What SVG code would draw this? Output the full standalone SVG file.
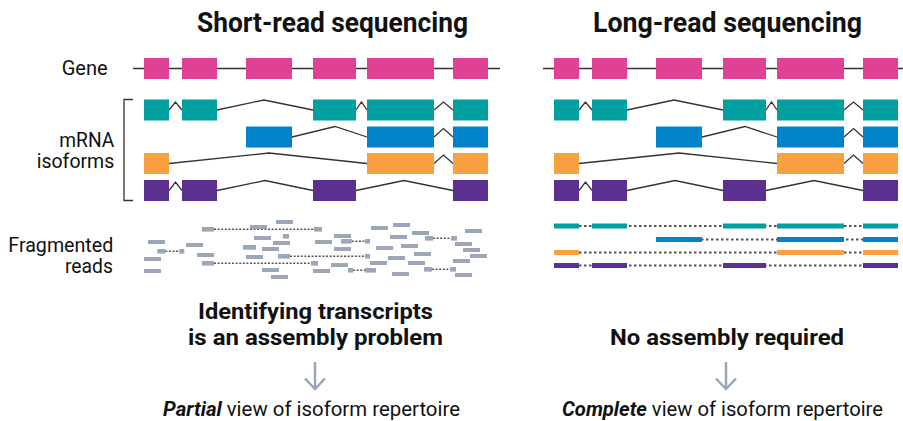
<svg xmlns="http://www.w3.org/2000/svg" width="903" height="421" viewBox="0 0 903 421">
<style>
  .title{font-family:Roboto,"Liberation Sans",sans-serif;font-weight:700;font-size:27px;fill:#111}
  .lab{font-family:Roboto,"Liberation Sans",sans-serif;font-size:21px;fill:#111}
  .bold{font-family:Roboto,"Liberation Sans",sans-serif;font-weight:700;font-size:22px;fill:#111}
  .foot{font-family:Roboto,"Liberation Sans",sans-serif;font-size:21px;fill:#111}
  .bi{font-weight:700;font-style:italic}
  .gene{fill:#e04195}
  .teal{fill:#009fa0}
  .blue{fill:#0083ca}
  .orange{fill:#f9a040}
  .purple{fill:#5c3090}
  .read{fill:#9ba6b9}
  .intron{fill:none;stroke:#333;stroke-width:1.3}
  .backbone{fill:none;stroke:#333;stroke-width:1.5}
  .dots{fill:none;stroke:#555;stroke-width:1.4;stroke-dasharray:2 1.6}
  .dash{fill:none;stroke:#555;stroke-width:2;stroke-dasharray:2.5 2.5}
  .arrow{fill:none;stroke:#9ba6b9;stroke-width:2.5}
</style>

<g id="titles">
  <text class="title" x="197" y="32" textLength="271" lengthAdjust="spacingAndGlyphs">Short-read sequencing</text>
  <text class="title" x="593" y="32" textLength="269" lengthAdjust="spacingAndGlyphs">Long-read sequencing</text>
</g>

<g id="labels">
  <text class="lab" x="61.7" y="75" textLength="46" lengthAdjust="spacingAndGlyphs">Gene</text>
  <text class="lab" x="59.3" y="146.7" textLength="55" lengthAdjust="spacingAndGlyphs">mRNA</text>
  <text class="lab" x="36.7" y="168.3" textLength="77.6" lengthAdjust="spacingAndGlyphs">isoforms</text>
  <text class="lab" x="8.3" y="251.7" textLength="105" lengthAdjust="spacingAndGlyphs">Fragmented</text>
  <text class="lab" x="65" y="273.3" textLength="48" lengthAdjust="spacingAndGlyphs">reads</text>
  <path class="intron" d="M133,99.5 H124 V200.5 H133"/>
</g>

<!-- LEFT PANEL -->
<g id="gene-left">
  <line class="backbone" x1="133" y1="68.5" x2="500" y2="68.5"/>
  <rect class="gene" x="144" y="58" width="25" height="21"/>
  <rect class="gene" x="182" y="58" width="35" height="21"/>
  <rect class="gene" x="246" y="58" width="46" height="21"/>
  <rect class="gene" x="313" y="58" width="43" height="21"/>
  <rect class="gene" x="367" y="58" width="67" height="21"/>
  <rect class="gene" x="453" y="58" width="35" height="21"/>
</g>

<g id="isoforms-left">
  <path class="intron" d="M169,110 L175.5,102 L182,110 M217,110 L264,100 L313,110 M356,110 L361.5,102 L367,110 M434,110 L443.5,102 L453,110"/>
  <rect class="teal" x="144" y="99.5" width="25" height="21"/>
  <rect class="teal" x="182" y="99.5" width="35" height="21"/>
  <rect class="teal" x="313" y="99.5" width="43" height="21"/>
  <rect class="teal" x="367" y="99.5" width="67" height="21"/>
  <rect class="teal" x="453" y="99.5" width="35" height="21"/>

  <path class="intron" d="M292,137 L335,126.5 L367,137 M434,137 L443.5,128.5 L453,137"/>
  <rect class="blue" x="246" y="126.5" width="46" height="21"/>
  <rect class="blue" x="367" y="126.5" width="67" height="21"/>
  <rect class="blue" x="453" y="126.5" width="35" height="21"/>

  <path class="intron" d="M169,163.5 L269,153 L367,163.5 M434,163.5 L443.5,155 L453,163.5"/>
  <rect class="orange" x="144" y="153" width="25" height="21"/>
  <rect class="orange" x="367" y="153" width="67" height="21"/>
  <rect class="orange" x="453" y="153" width="35" height="21"/>

  <path class="intron" d="M169,190.5 L175.5,182 L182,190.5 M217,190.5 L265,180.5 L313,190.5 M356,190.5 L404,180.5 L453,190.5"/>
  <rect class="purple" x="144" y="180" width="25" height="21"/>
  <rect class="purple" x="182" y="180" width="35" height="21"/>
  <rect class="purple" x="313" y="180" width="43" height="21"/>
  <rect class="purple" x="453" y="180" width="35" height="21"/>
</g>

<g id="reads-left">
  <path class="dots" d="M214,229.3 H314 M165.3,251.3 H179.3 M214,263.3 H311 M290,256.3 H365 M351.7,241.3 H365 M353,270.3 H365 M433,238.3 H451 M432,269.3 H450"/>
  <rect class="read" x="202" y="227" width="12" height="4.6"/>
  <rect class="read" x="314" y="227" width="8" height="4.6"/>
  <rect class="read" x="157.3" y="249" width="8" height="4.6"/>
  <rect class="read" x="179.3" y="249" width="5" height="4.6"/>
  <rect class="read" x="202" y="261" width="12" height="4.6"/>
  <rect class="read" x="311" y="261" width="7" height="4.6"/>
  <rect class="read" x="278" y="254" width="12" height="4.6"/>
  <rect class="read" x="365" y="254" width="5" height="4.6"/>
  <rect class="read" x="341" y="239" width="10.7" height="4.6"/>
  <rect class="read" x="365" y="239" width="5" height="4.6"/>
  <rect class="read" x="348" y="268" width="5" height="4.6"/>
  <rect class="read" x="365" y="268" width="11" height="4.6"/>
  <rect class="read" x="425" y="236" width="8" height="4.6"/>
  <rect class="read" x="451" y="236" width="6" height="4.6"/>
  <rect class="read" x="424" y="267" width="8" height="4.6"/>
  <rect class="read" x="450" y="267" width="6" height="4.6"/>

  <rect class="read" x="276" y="220" width="17" height="4"/>
  <rect class="read" x="250" y="225" width="17" height="4"/>
  <rect class="read" x="371" y="226" width="17" height="4"/>
  <rect class="read" x="393" y="223" width="17" height="4"/>
  <rect class="read" x="148" y="240" width="17" height="4"/>
  <rect class="read" x="186" y="243" width="17" height="4"/>
  <rect class="read" x="144" y="257" width="17" height="4"/>
  <rect class="read" x="144" y="269" width="17" height="4"/>
  <rect class="read" x="197" y="253" width="17" height="4"/>
  <rect class="read" x="254" y="236" width="17" height="4"/>
  <rect class="read" x="283" y="234" width="6" height="4.6"/>
  <rect class="read" x="273" y="241" width="17" height="4"/>
  <rect class="read" x="243" y="245" width="13" height="4.6"/>
  <rect class="read" x="262" y="247" width="17" height="4"/>
  <rect class="read" x="246" y="255" width="17" height="4"/>
  <rect class="read" x="262" y="268" width="17" height="4"/>
  <rect class="read" x="271" y="275" width="17" height="4"/>
  <rect class="read" x="315" y="240" width="17" height="4"/>
  <rect class="read" x="334" y="234" width="17" height="4"/>
  <rect class="read" x="334" y="247" width="17" height="4"/>
  <rect class="read" x="313" y="269" width="17" height="4"/>
  <rect class="read" x="331" y="263" width="17" height="4"/>
  <rect class="read" x="376" y="246" width="17" height="4"/>
  <rect class="read" x="390" y="235" width="17" height="4"/>
  <rect class="read" x="412" y="231" width="17" height="4"/>
  <rect class="read" x="401" y="244" width="17" height="4"/>
  <rect class="read" x="388" y="256" width="17" height="4"/>
  <rect class="read" x="414" y="252" width="17" height="4"/>
  <rect class="read" x="370" y="261" width="17" height="4"/>
  <rect class="read" x="408" y="261" width="17" height="4"/>
  <rect class="read" x="392" y="272" width="17" height="4"/>
  <rect class="read" x="465" y="229" width="17" height="4"/>
  <rect class="read" x="455" y="242" width="17" height="4"/>
  <rect class="read" x="463" y="248" width="17" height="4"/>
  <rect class="read" x="470" y="254" width="17" height="4"/>
  <rect class="read" x="453" y="259" width="17" height="4"/>
  <rect class="read" x="455" y="273" width="17" height="4"/>
</g>

<!-- RIGHT PANEL -->
<g id="gene-right">
  <line class="backbone" x1="543" y1="68.5" x2="903" y2="68.5"/>
  <rect class="gene" x="554" y="58" width="25" height="21"/>
  <rect class="gene" x="592" y="58" width="35" height="21"/>
  <rect class="gene" x="656" y="58" width="46" height="21"/>
  <rect class="gene" x="723" y="58" width="43" height="21"/>
  <rect class="gene" x="777" y="58" width="67" height="21"/>
  <rect class="gene" x="863" y="58" width="35" height="21"/>
</g>

<g id="isoforms-right">
  <path class="intron" d="M579,110 L585.5,102 L592,110 M627,110 L674,100 L723,110 M766,110 L771.5,102 L777,110 M844,110 L853.5,102 L863,110"/>
  <rect class="teal" x="554" y="99.5" width="25" height="21"/>
  <rect class="teal" x="592" y="99.5" width="35" height="21"/>
  <rect class="teal" x="723" y="99.5" width="43" height="21"/>
  <rect class="teal" x="777" y="99.5" width="67" height="21"/>
  <rect class="teal" x="863" y="99.5" width="35" height="21"/>

  <path class="intron" d="M702,137 L745,126.5 L777,137 M844,137 L853.5,128.5 L863,137"/>
  <rect class="blue" x="656" y="126.5" width="46" height="21"/>
  <rect class="blue" x="777" y="126.5" width="67" height="21"/>
  <rect class="blue" x="863" y="126.5" width="35" height="21"/>

  <path class="intron" d="M579,163.5 L679,153 L777,163.5 M844,163.5 L853.5,155 L863,163.5"/>
  <rect class="orange" x="554" y="153" width="25" height="21"/>
  <rect class="orange" x="777" y="153" width="67" height="21"/>
  <rect class="orange" x="863" y="153" width="35" height="21"/>

  <path class="intron" d="M579,190.5 L585.5,182 L592,190.5 M627,190.5 L675,180.5 L723,190.5 M766,190.5 L814,180.5 L863,190.5"/>
  <rect class="purple" x="554" y="180" width="25" height="21"/>
  <rect class="purple" x="592" y="180" width="35" height="21"/>
  <rect class="purple" x="723" y="180" width="43" height="21"/>
  <rect class="purple" x="863" y="180" width="35" height="21"/>
</g>

<g id="reads-right">
  <path class="dash" d="M554,226 H898 M656,239.5 H898 M554,252.5 H898 M554,265.5 H898"/>
  <rect class="teal" x="554" y="223.5" width="25" height="5"/>
  <rect class="teal" x="592" y="223.5" width="35" height="5"/>
  <rect class="teal" x="723" y="223.5" width="43" height="5"/>
  <rect class="teal" x="777" y="223.5" width="67" height="5"/>
  <rect class="teal" x="863" y="223.5" width="35" height="5"/>
  <rect class="blue" x="656" y="237" width="46" height="5"/>
  <rect class="blue" x="777" y="237" width="67" height="5"/>
  <rect class="blue" x="863" y="237" width="35" height="5"/>
  <rect class="orange" x="554" y="250" width="25" height="5"/>
  <rect class="orange" x="777" y="250" width="67" height="5"/>
  <rect class="orange" x="863" y="250" width="35" height="5"/>
  <rect class="purple" x="554" y="263" width="25" height="5"/>
  <rect class="purple" x="592" y="263" width="35" height="5"/>
  <rect class="purple" x="723" y="263" width="43" height="5"/>
  <rect class="purple" x="863" y="263" width="35" height="5"/>
</g>

<g id="conclusion-left">
  <text class="bold" x="198" y="319.3" textLength="235" lengthAdjust="spacingAndGlyphs">Identifying transcripts</text>
  <text class="bold" x="188" y="345" textLength="255" lengthAdjust="spacingAndGlyphs">is an assembly problem</text>
  <path class="arrow" d="M315,362 V389 M305,378.5 L315,389 L325,378.5"/>
  <text class="foot" x="163" y="416" textLength="297" lengthAdjust="spacingAndGlyphs"><tspan class="bi">Partial</tspan> view of isoform repertoire</text>
</g>

<g id="conclusion-right">
  <text class="bold" x="610" y="345" textLength="234" lengthAdjust="spacingAndGlyphs">No assembly required</text>
  <path class="arrow" d="M726,362 V389 M716,378.5 L726,389 L736,378.5"/>
  <text class="foot" x="562" y="416" textLength="321" lengthAdjust="spacingAndGlyphs"><tspan class="bi">Complete</tspan> view of isoform repertoire</text>
</g>
</svg>
